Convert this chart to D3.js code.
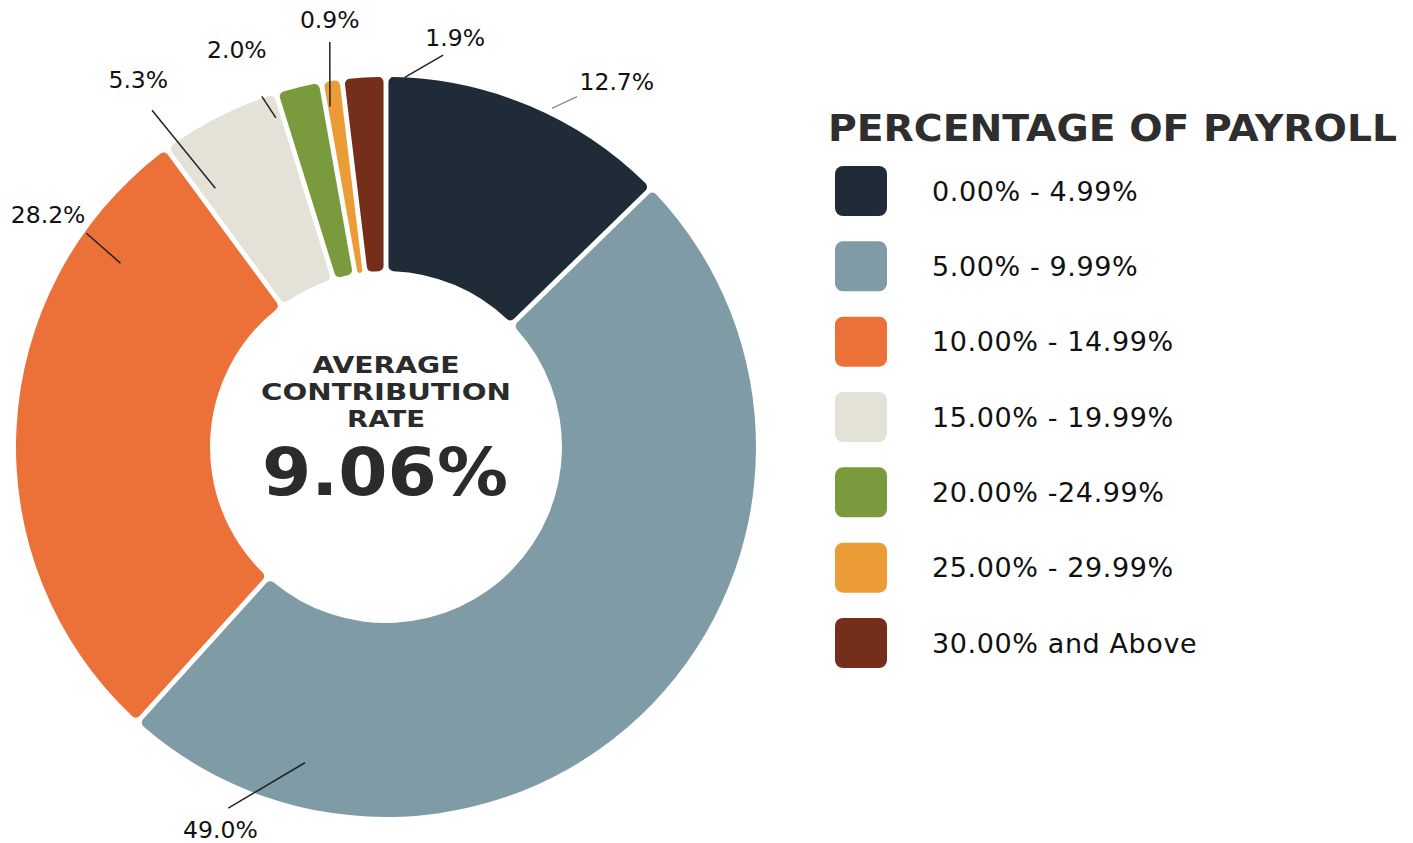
<!DOCTYPE html>
<html>
<head>
<meta charset="utf-8">
<script src="https://cdn.jsdelivr.net/npm/d3@7"></script>
<style>
  html, body { margin: 0; padding: 0; background: #fff; }
  svg { display: block; }
</style>
</head>
<body>
<svg id="chart" width="1413" height="843"></svg>
<script>
// data
var categories = ["0.00% - 4.99%", "5.00% - 9.99%", "10.00% - 14.99%", "15.00% - 19.99%",
                  "20.00% -24.99%", "25.00% - 29.99%", "30.00% and Above"];
var shares = [12.7, 49.0, 28.2, 5.3, 2.0, 0.9, 1.9];
var colors = ["#1f2c37", "#7f9ba5", "#ec7139", "#e4e2d7", "#7a9b3d", "#eb9c36", "#742e1a"];
var legendTitle = "PERCENTAGE OF PAYROLL";
var centerLines = ["AVERAGE", "CONTRIBUTION", "RATE"];
var centerValue = "9.06%";

// hand placed label layout (polar, degrees from 12 o'clock): [labelAngle, labelR, lineA1, lineR1, lineA2, lineR2]
var labelLayout = [
  [32.3, 432, 26.1, 377, 28.6, 399],
  [203.4, 417, 194.4, 326, 203.6, 394],
  [-55.5, 410, -55.3, 323, -54.5, 368],
  [-34.0, 443, -33.4, 310, -34.8, 410],
  [-20.6, 424, -18.5, 347, -19.5, 372],
  [-7.5, 431, -9.35, 345, -7.9, 409],
  [9.6, 415, 2.9, 370, 8.3, 396]
];

var svg = d3.select("#chart");
var cx = 386, cy = 447, outerR = 370, innerR = 176;
var rad = Math.PI / 180;

var pie = d3.pie().sort(null).value(function(d) { return d; });
var arc = d3.arc()
    .innerRadius(innerR)
    .outerRadius(outerR)
    .padAngle(0.012)
    .cornerRadius(5);

var g = svg.append("g").attr("transform", "translate(" + cx + "," + cy + ")");

g.selectAll("path.slice")
  .data(pie(shares))
  .enter().append("path")
    .attr("class", "slice")
    .attr("d", arc)
    .attr("fill", function(d, i) { return colors[i]; });

// leader lines + labels
var lbl = g.selectAll("g.lbl")
  .data(pie(shares))
  .enter().append("g")
    .attr("class", "lbl");

lbl.append("line")
    .attr("x1", function(d, i) { return d3.pointRadial(labelLayout[i][2] * rad, labelLayout[i][3])[0]; })
    .attr("y1", function(d, i) { return d3.pointRadial(labelLayout[i][2] * rad, labelLayout[i][3])[1]; })
    .attr("x2", function(d, i) { return d3.pointRadial(labelLayout[i][4] * rad, labelLayout[i][5])[0]; })
    .attr("y2", function(d, i) { return d3.pointRadial(labelLayout[i][4] * rad, labelLayout[i][5])[1]; })
    .attr("stroke", function(d, i) { return i === 0 ? "#8a8f93" : "#222"; })
    .attr("stroke-width", 1.5);

lbl.append("text")
    .attr("x", function(d, i) { return d3.pointRadial(labelLayout[i][0] * rad, labelLayout[i][1])[0]; })
    .attr("y", function(d, i) { return d3.pointRadial(labelLayout[i][0] * rad, labelLayout[i][1])[1]; })
    .attr("text-anchor", "middle")
    .attr("dominant-baseline", "central")
    .attr("font-family", "'DejaVu Sans', Verdana, sans-serif")
    .attr("font-size", 23.5)
    .attr("fill", "#111")
    .text(function(d) { return d3.format(".1f")(d.data) + "%"; });

// centre text
var heavy = "'DejaVu Sans', 'Liberation Sans', sans-serif";
var centerY = [373, 400, 427];
var centerW = [147, 250, 78];
centerLines.forEach(function(t, i) {
  g.append("text")
    .attr("x", 0)
    .attr("y", centerY[i] - cy)
    .attr("text-anchor", "middle")
    .attr("font-family", heavy)
    .attr("font-weight", "bold")
    .attr("font-size", 23)
    .attr("textLength", centerW[i])
    .attr("lengthAdjust", "spacingAndGlyphs")
    .attr("fill", "#2b2b2b")
    .text(t);
});
g.append("text")
    .attr("x", -1)
    .attr("y", 495 - cy)
    .attr("text-anchor", "middle")
    .attr("font-family", heavy)
    .attr("font-weight", "bold")
    .attr("font-size", 66)
    .attr("textLength", 246)
    .attr("lengthAdjust", "spacingAndGlyphs")
    .attr("fill", "#2b2b2b")
    .text(centerValue);

// legend
var legend = svg.append("g").attr("transform", "translate(828,0)");
legend.append("text")
    .attr("x", 0)
    .attr("y", 141)
    .attr("font-family", heavy)
    .attr("font-weight", "bold")
    .attr("font-size", 38)
    .attr("textLength", 569)
    .attr("lengthAdjust", "spacingAndGlyphs")
    .attr("fill", "#2e2e2e")
    .text(legendTitle);

var rowY = d3.scalePoint().domain(categories).range([191, 643]);

var item = legend.selectAll("g.item")
  .data(categories)
  .enter().append("g")
    .attr("class", "item")
    .attr("transform", function(d) { return "translate(0," + rowY(d) + ")"; });

item.append("rect")
    .attr("x", 7)
    .attr("y", -25)
    .attr("width", 52)
    .attr("height", 50)
    .attr("rx", 8)
    .attr("fill", function(d, i) { return colors[i]; });

item.append("text")
    .attr("x", 104)
    .attr("y", 0)
    .attr("dominant-baseline", "central")
    .attr("font-family", "'DejaVu Sans', Verdana, sans-serif")
    .attr("font-size", 27)
    .attr("letter-spacing", 0.6)
    .attr("fill", "#111")
    .text(function(d) { return d; });
</script>
</body>
</html>
